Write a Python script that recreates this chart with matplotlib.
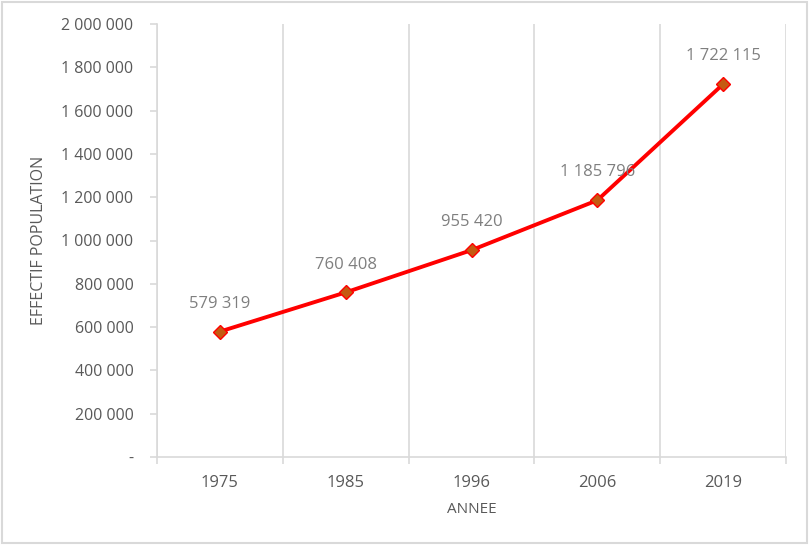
import matplotlib.pyplot as plt
import numpy as np
from matplotlib.ticker import FuncFormatter, FixedLocator

# --- data ---
annees = ['1975', '1985', '1996', '2006', '2019']
effectif = [579319, 760408, 955420, 1185796, 1722115]

grid_col = '#d9d9d9'
txt_col = '#595959'

def fmt_fr(v, pos=None):
    if v == 0:
        return '-'
    return f"{int(v):,}".replace(',', ' ')

plt.rcParams['font.family'] = ['Open Sans', 'DejaVu Sans']

fig = plt.figure(figsize=(8.09, 5.45), dpi=100)
ax = fig.add_axes([157/809, 1 - 457/545, (786 - 157)/809, (457 - 24)/545])

x = np.arange(len(annees))
ax.plot(x, effectif, color='#ff0000', linewidth=2.8, marker='D', markersize=7.5,
        markerfacecolor='#c55a11', markeredgecolor='#ff0000', markeredgewidth=1, zorder=3)

for xi, v in zip(x, effectif):
    ax.annotate(fmt_fr(v), (xi, v), xytext=(0, 20), textcoords='offset points',
                ha='center', va='center', fontsize=12, color='#7f7f7f')

ax.set_xlim(-0.5, len(annees) - 0.5)
ax.set_ylim(0, 2000000)
ax.set_yticks(np.arange(0, 2000001, 200000))
ax.yaxis.set_major_formatter(FuncFormatter(fmt_fr))

# category boundaries: gridlines + ticks
bounds = np.arange(-0.5, len(annees), 1.0)
ax.xaxis.set_major_locator(FixedLocator(bounds))
ax.xaxis.set_minor_locator(FixedLocator(x))
ax.set_xticklabels([''] * len(bounds))
ax.set_xticklabels(annees, minor=True)
ax.tick_params(axis='x', which='major', length=5, color=grid_col, width=1.2)
ax.tick_params(axis='x', which='minor', length=0, pad=13, labelsize=12, labelcolor=txt_col)
ax.tick_params(axis='y', length=5, color=grid_col, width=1.2, labelsize=11.5,
               labelcolor=txt_col, pad=12)
ax.grid(True, axis='x', which='major', color=grid_col, linewidth=1.2)

for s in ['top', 'right']:
    ax.spines[s].set_visible(False)
for s in ['left', 'bottom']:
    ax.spines[s].set_color(grid_col)
    ax.spines[s].set_linewidth(1.2)

ax.set_xlabel('ANNEE', fontsize=11, color=txt_col, labelpad=8)
ax.set_ylabel('EFFECTIF POPULATION', fontsize=11.5, color=txt_col, labelpad=10)

# outer frame like the Excel chart area
fig.patches.append(plt.Rectangle((0.002, 0.003), 0.995, 0.993, transform=fig.transFigure,
                                 fill=False, edgecolor=grid_col, linewidth=1.5))

fig.savefig('out.png', dpi=100)
